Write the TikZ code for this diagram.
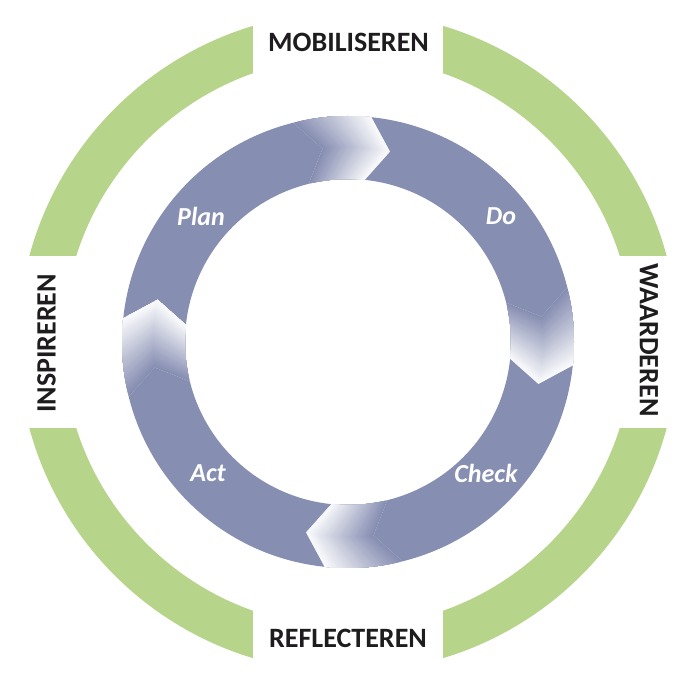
\documentclass[tikz,border=0pt]{standalone}
\usepackage{fontspec}
\setmainfont{Carlito}
\usepackage{tikz}
\usetikzlibrary{positioning}
\definecolor{pdcablue}{RGB}{134,142,178}
\definecolor{ringgreen}{RGB}{182,212,138}
\definecolor{stagetext}{RGB}{30,28,30}
\tikzstyle{phase} = [text=white, font=\fontsize{26}{26}\selectfont\bfseries\itshape, inner sep=0pt]
\tikzstyle{stage} = [text=stagetext, font=\fontsize{28}{28}\selectfont\bfseries, inner sep=0pt]

\begin{document}
\begin{tikzpicture}[x=1pt, y=1pt]
\useasboundingbox (-348,-340) rectangle (342,342);
\coordinate (c) at (0,0);
% green ring in four pieces
\foreach \sx/\sy in {-1/1, 1/1, 1/-1, -1/-1} {
  \begin{scope}
    \clip (95*\sx,86*\sy) rectangle (400*\sx,400*\sy);
    \fill[ringgreen, even odd rule] (c) circle[radius=330pt] (c) circle[radius=285pt];
  \end{scope}
}
% the four arrows, head fading out
\foreach \b in {84,-6,-96,-186} {
  \pgfmathsetmacro{\t}{\b+90}
  \pgfmathsetmacro{\f}{\b+20}
  \fill[pdcablue] (\t:226pt) arc[start angle=\t, end angle=\f, radius=226pt] -- (\f-6.5:195pt) -- (\f:163pt)
    arc[start angle=\f, end angle=\t, radius=163pt] -- (\t-6.5:195pt) -- cycle;
  \foreach \i in {0,...,29} {
    \pgfmathsetmacro{\a}{\b+20*(1-\i/30)}
    \pgfmathtruncatemacro{\p}{100-\i*95/29}
    \fill[pdcablue!\p!white] (\a:226pt) arc[start angle=\a, end angle=\b, radius=226pt] -- (\b-6.5:195pt) -- (\b:163pt)
      arc[start angle=\b, end angle=\a, radius=163pt] -- (\a-6.5:195pt) -- cycle;
  }
}
\node (plan) [phase] at (-147,126) {Plan};
\node (do) [phase, right of=plan, node distance=300pt] {Do};
\node (act) [phase] at (-140,-131) {Act};
\node (check) [phase, right of=act, node distance=278pt] {Check};
\node (mob) [stage] at (0.5,299.5) {MOBILISEREN};
\node (refl) [stage] at (0,-296.5) {REFLECTEREN};
\node (insp) [stage, rotate=90] at (-301.5,-1.5) {INSPIREREN};
\node (waar) [stage, rotate=-90] at (301,2) {WAARDEREN};
\end{tikzpicture}
\end{document}
